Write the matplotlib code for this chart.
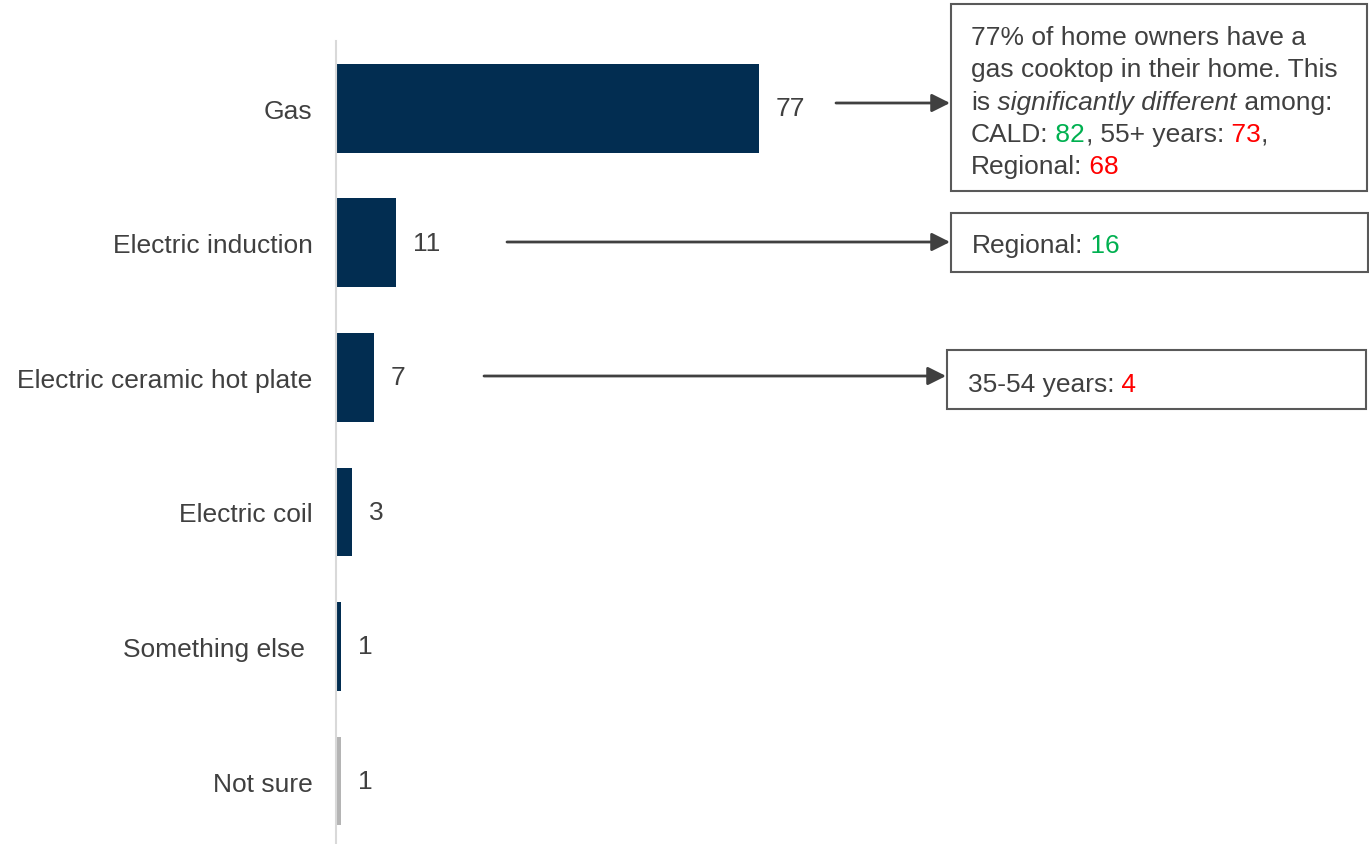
import matplotlib
matplotlib.use("Agg")
import matplotlib.pyplot as plt
from matplotlib.patches import Rectangle

# ---- data -------------------------------------------------------------
categories = ["Gas", "Electric induction", "Electric ceramic hot plate",
              "Electric coil", "Something else ", "Not sure"]
values = [77, 11, 7, 3, 1, 1]

gas_subgroups = ["CALD", "55+ years", "Regional"]
gas_subgroup_values = [82, 73, 68]
gas_subgroup_dir = ["up", "down", "down"]

induction_subgroups = ["Regional"]
induction_subgroup_values = [16]
induction_subgroup_dir = ["up"]

ceramic_subgroups = ["35-54 years"]
ceramic_subgroup_values = [4]
ceramic_subgroup_dir = ["down"]

# ---- style ------------------------------------------------------------
NAVY = "#022D51"
GREY_BAR = "#B4B4B4"
TXT = "#404040"
GREEN = "#00B050"
RED = "#FF0000"
BOX_EDGE = "#595959"
FS = 19
plt.rcParams["font.family"] = ["Liberation Sans", "DejaVu Sans"]

W, H = 1369, 845
fig = plt.figure(figsize=(W / 100, H / 100), dpi=100)
fig.patch.set_facecolor("white")

# bar axes: left spine at x=336 px, top at y=42 px
ax = fig.add_axes([336 / W, 0, (W - 336) / W, (H - 42) / H])
bar_colors = [NAVY] * (len(values) - 1) + [GREY_BAR]
ypos = list(range(len(categories)))
ax.barh(ypos, values, height=0.66, color=bar_colors, zorder=2)
ax.set_xlim(0, (W - 336) / 5.49)
ax.set_ylim(5.468, -0.5)
ax.set_yticks(ypos)
ax.set_yticklabels(categories, fontsize=FS, color=TXT)
ax.tick_params(axis="y", length=0, pad=17)
ax.set_xticks([])
for s in ["top", "right", "bottom"]:
    ax.spines[s].set_visible(False)
ax.spines["left"].set_color("#D9D9D9")
ax.spines["left"].set_linewidth(1.5)

for y, v in zip(ypos, values):
    ax.text(v + 3.0, y, f"{v}", va="center", ha="left", fontsize=FS, color=TXT)

# ---- overlay in pixel coordinates for call-out boxes ---------------------
ov = fig.add_axes([0, 0, 1, 1], zorder=5)
ov.set_xlim(0, W)
ov.set_ylim(H, 0)
ov.axis("off")
ov.patch.set_alpha(0)

renderer = fig.canvas.get_renderer()


def rich_line(x, y, segments):
    """Draw consecutive text pieces with individual colours/styles."""
    for text, color, style in segments:
        t = ov.text(x, y, text, color=color, style=style, fontsize=FS,
                    ha="left", va="baseline")
        bb = t.get_window_extent(renderer=renderer)
        x = ov.transData.inverted().transform((bb.x1, bb.y0))[0]


def dir_color(d):
    return GREEN if d == "up" else RED


def box(x0, y0, x1, y1):
    ov.add_patch(Rectangle((x0, y0), x1 - x0, y1 - y0, fill=False,
                           edgecolor=BOX_EDGE, linewidth=1.5))


def arrow(x0, x1, y):
    ov.annotate("", xy=(x1, y), xytext=(x0, y),
                arrowprops=dict(arrowstyle="-|>,head_length=1.1,head_width=0.55",
                                color=TXT, lw=2.0, shrinkA=0, shrinkB=0))


# Gas call-out
box(951, 5, 1367, 192)
arrow(836, 950, 104)
rich_line(971, 45, [("77% of home owners have a", TXT, "normal")])
rich_line(971, 77, [("gas cooktop in their home. This", TXT, "normal")])
rich_line(971, 110, [("is", TXT, "normal"),
                     (" significantly different", TXT, "italic"),
                     (" among:", TXT, "normal")])
line4 = []
for i, (g, v, d) in enumerate(zip(gas_subgroups[:2], gas_subgroup_values[:2],
                                  gas_subgroup_dir[:2])):
    line4.append(((" " if i else "") + f"{g}:", TXT, "normal"))
    line4.append((f" {v}", dir_color(d), "normal"))
    line4.append((",", TXT, "normal"))
rich_line(971, 142, line4)
rich_line(971, 174, [(f"{gas_subgroups[2]}:", TXT, "normal"),
                     (f" {gas_subgroup_values[2]}", dir_color(gas_subgroup_dir[2]), "normal")])

# Electric induction call-out
box(951, 214, 1368, 273)
arrow(507, 950, 243)
rich_line(972, 253, [(f"{induction_subgroups[0]}:", TXT, "normal"),
                     (f" {induction_subgroup_values[0]}",
                      dir_color(induction_subgroup_dir[0]), "normal")])

# Electric ceramic hot plate call-out
box(947, 351, 1366, 410)
arrow(484, 946, 377)
rich_line(968, 392, [(f"{ceramic_subgroups[0]}:", TXT, "normal"),
                     (f" {ceramic_subgroup_values[0]}",
                      dir_color(ceramic_subgroup_dir[0]), "normal")])

fig.savefig("out.png", dpi=100, facecolor="white")
